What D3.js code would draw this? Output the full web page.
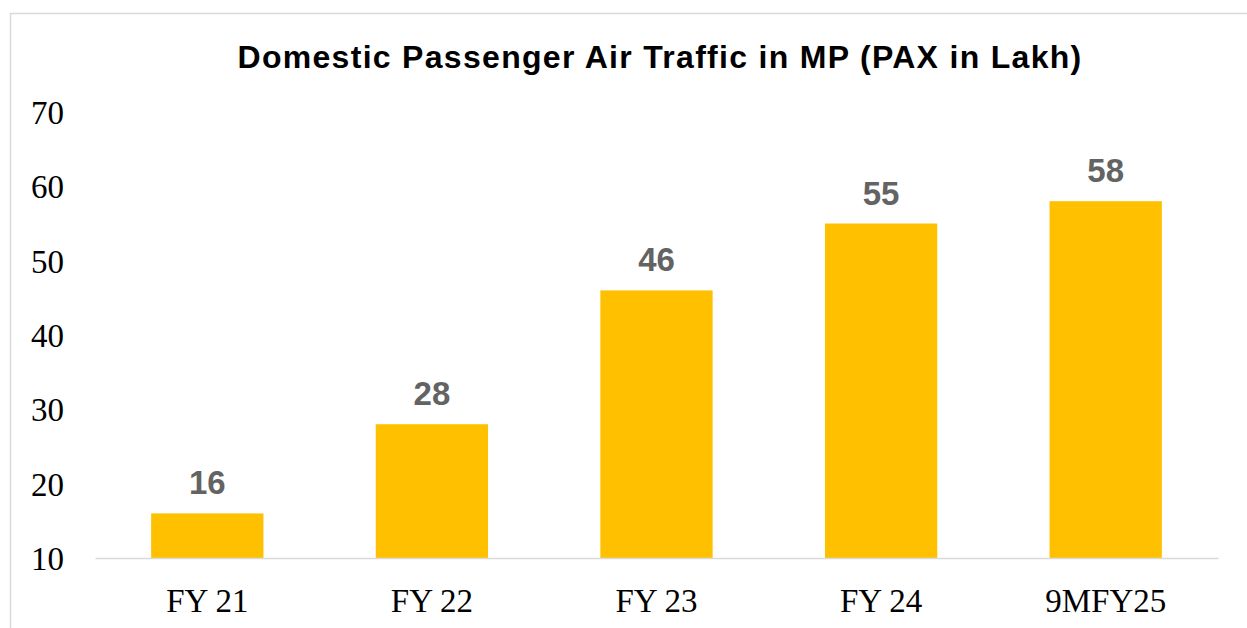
<!DOCTYPE html>
<html>
<head>
<meta charset="utf-8">
<script src="https://cdn.jsdelivr.net/npm/d3@7"></script>
<style>
  body { margin: 0; background: #fff; }
  svg { display: block; }
</style>
</head>
<body>
<svg></svg>
<script>
var categories = ['FY 21', 'FY 22', 'FY 23', 'FY 24', '9MFY25'];
var values = [16, 28, 46, 55, 58];
var yTicks = [10, 20, 30, 40, 50, 60, 70];
var title = 'Domestic Passenger Air Traffic in MP (PAX in Lakh)';

var width = 1247;
var height = 628;

var svg = d3.select('svg')
    .attr('width', width)
    .attr('height', height);

// outer chart frame
svg.append('rect')
    .attr('x', 10.5)
    .attr('y', 13.5)
    .attr('width', 1300)
    .attr('height', 700)
    .attr('fill', 'none')
    .attr('stroke', '#d9d9d9')
    .attr('stroke-width', 1.5);

var xScale = d3.scaleBand()
    .domain(categories)
    .range([95, 1218])
    .paddingInner(0.5)
    .paddingOuter(0.25);

var yScale = d3.scaleLinear()
    .domain([10, 70])
    .range([558, 112]);

// title
svg.append('text')
    .attr('x', 660)
    .attr('y', 68)
    .attr('text-anchor', 'middle')
    .style('font-family', 'Liberation Sans, Arial, sans-serif')
    .style('font-weight', 'bold')
    .style('font-size', '32px')
    .style('letter-spacing', '1.3px')
    .style('fill', '#000')
    .text(title);

// y axis (labels only)
var yAxis = d3.axisLeft(yScale)
    .tickValues(yTicks)
    .tickSize(0)
    .tickPadding(0);

var yG = svg.append('g')
    .attr('transform', 'translate(64,0)')
    .call(yAxis);
yG.select('.domain').remove();
yG.selectAll('text')
    .attr('dy', '0.35em')
    .style('font-family', 'Liberation Serif, Times New Roman, serif')
    .style('font-size', '33px')
    .style('fill', '#000');

// bars
svg.selectAll('.bar')
    .data(values)
    .enter()
    .append('rect')
    .attr('class', 'bar')
    .attr('x', (d, i) => xScale(categories[i]))
    .attr('width', xScale.bandwidth())
    .attr('y', (d) => yScale(d))
    .attr('height', (d) => yScale(10) - yScale(d))
    .attr('fill', '#FFC000');

// baseline + x labels
var xAxis = d3.axisBottom(xScale)
    .tickSize(0)
    .tickPadding(0);

var xG = svg.append('g')
    .attr('transform', 'translate(0,' + yScale(10) + ')')
    .call(xAxis);
xG.select('.domain')
    .attr('stroke', '#d9d9d9')
    .attr('stroke-width', 1.5);
xG.selectAll('text')
    .attr('dy', 0)
    .attr('y', 54)
    .style('font-family', 'Liberation Serif, Times New Roman, serif')
    .style('font-size', '33px')
    .style('fill', '#000');

// value labels
svg.selectAll('.val')
    .data(values)
    .enter()
    .append('text')
    .attr('class', 'val')
    .attr('x', (d, i) => xScale(categories[i]) + xScale.bandwidth() / 2)
    .attr('y', (d) => yScale(d) - 19)
    .attr('text-anchor', 'middle')
    .style('font-family', 'Liberation Sans, Arial, sans-serif')
    .style('font-weight', 'bold')
    .style('font-size', '33px')
    .style('fill', '#636363')
    .text((d) => d);
</script>
</body>
</html>
